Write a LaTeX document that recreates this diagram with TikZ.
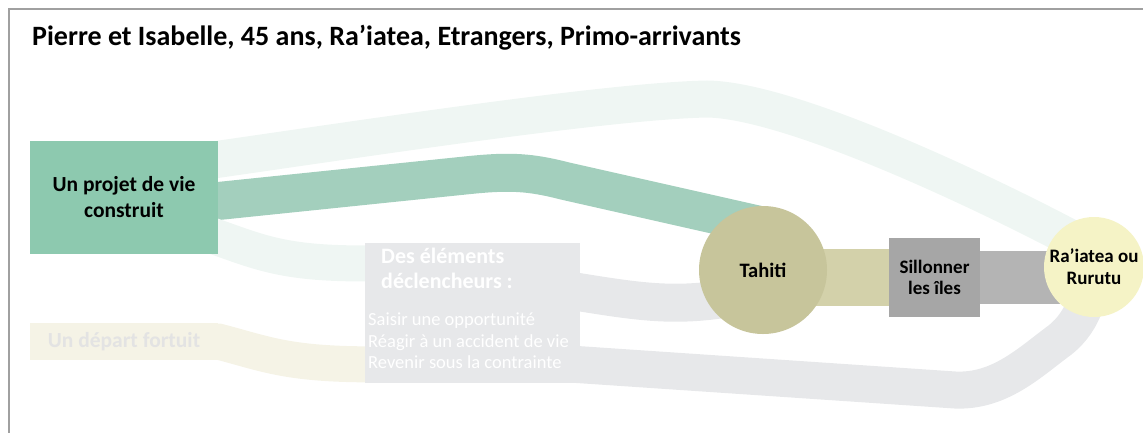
\documentclass[tikz,border=0pt]{standalone}
\usepackage{fontspec}
\setmainfont{Carlito}
\definecolor{vertprojet}{HTML}{8DC9AF}
\definecolor{vertflux}{HTML}{A3CFBD}
\definecolor{vertpale}{HTML}{EFF6F3}
\definecolor{jaunedepart}{HTML}{F5F3E6}
\definecolor{textedepart}{HTML}{E3E3E3}
\definecolor{grisclair}{HTML}{E7E8EA}
\definecolor{olivetahiti}{HTML}{C7C59B}
\definecolor{olivepale}{HTML}{D3D1AA}
\definecolor{grisile}{HTML}{A6A6A6}
\definecolor{grisflux}{HTML}{B4B4B4}
\definecolor{jauneraiatea}{HTML}{F5F3C6}
\definecolor{cadre}{HTML}{A0A0A0}
\pgfdeclarelayer{fond}
\pgfsetlayers{fond,main}

\begin{document}
\begin{tikzpicture}[x=1pt, y=-1pt,
    boite/.style={inner sep=0pt, align=center, font=\bfseries\fontsize{21.5}{26}\selectfont},
    rond/.style={circle, inner sep=0pt, align=center, font=\bfseries\fontsize{19}{21.7}\selectfont},
    flux/.style={line width=#1, shorten <=-14pt, shorten >=-30pt}]
  \useasboundingbox (0,0) rectangle (1143,432);
  \draw[cadre, line width=2.5pt] (9,440) -- (9,9) -- (1150,9);

  \node[anchor=base west, inner sep=0pt, font=\bfseries\fontsize{28}{33}\selectfont] (titre) at (32,45) {Pierre et Isabelle, 45 ans, Ra’iatea, Etrangers, Primo-arrivants};

  % Noeuds
  \node[boite, fill=vertprojet, minimum width=188pt, minimum height=113pt] (projet) at (124,197.5) {Un projet de vie\\construit};
  \node[boite, fill=jaunedepart, text=textedepart, minimum width=188pt, minimum height=37pt] (depart) at (124,341.5) {Un départ fortuit};
  \node[boite, fill=grisclair, minimum width=215pt, minimum height=140pt] (declencheurs) at (472.5,313) {};
  \node[anchor=north west, inner sep=0pt, align=left, text=white, font=\bfseries\fontsize{22}{25}\selectfont] (declictitre) at (381,248) {Des éléments\\déclencheurs :};
  \node[anchor=north west, inner sep=0pt, align=left, text=white, font=\fontsize{18.5}{21.5}\selectfont] (declicliste) at (368,313) {Saisir une opportunité\\Réagir à un accident de vie\\Revenir sous la contrainte};
  \node[rond, fill=olivetahiti, minimum size=128pt, font=\bfseries\fontsize{20.5}{24}\selectfont] (tahiti) at (763,270) {Tahiti};
  \node[boite, fill=grisile, minimum width=91pt, minimum height=79pt, font=\bfseries\fontsize{19}{21.7}\selectfont] (sillon) at (934.5,277.5) {Sillonner\\les îles};
  \node[rond, fill=jauneraiatea, minimum size=100pt] (raiatea) at (1094,267) {Ra’iatea ou\\Rurutu};

  % Flux
  \begin{pgfonlayer}{fond}
    \draw[flux=37pt, vertpale] ([yshift=-18.5pt]projet.north east) .. controls (380,136) and (610,101) .. (707,99) .. controls (790,100) and (985,192) .. (raiatea.north west);
    \draw[flux=38pt, vertflux, shorten >=-40pt] ([yshift=-3.5pt]projet.east) -- (470,175) .. controls (510,171) and (530,172) .. (565,181) -- (tahiti.125);
    \draw[flux=36pt, vertpale] ([yshift=16.5pt]projet.south east) .. controls (265,254) and (285,266) .. ([yshift=-21pt]declencheurs.north west);
    \draw[flux=36pt, jaunedepart] (depart.center) -- (depart.east) .. controls (270,355) and (290,366) .. ([yshift=18.5pt]declencheurs.south west);
    \draw[flux=38pt, grisclair] ([yshift=-49.5pt]declencheurs.north east) .. controls (640,302) and (675,308) .. (tahiti.210);
    \draw[flux=37pt, grisclair] ([yshift=18.5pt]declencheurs.south east) -- (955,390) .. controls (1000,392) and (1030,362) .. (1060,340) .. controls (1085,320) and (1094,290) .. (raiatea.center);
    \draw[line width=57pt, olivepale] (sillon.west -| tahiti.center) -- (sillon.west);
    \draw[line width=53pt, grisflux] (sillon.east) -- (sillon.east -| raiatea.center);
  \end{pgfonlayer}
\end{tikzpicture}
\end{document}
